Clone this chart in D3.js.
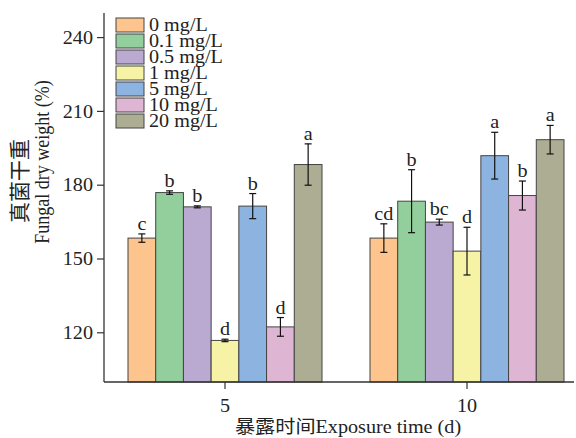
<!DOCTYPE html>
<html>
<head>
<meta charset="utf-8">
<script src="https://cdn.jsdelivr.net/npm/d3@7/dist/d3.min.js"></script>
<style>
  html, body { margin: 0; padding: 0; background: #fff; }
  svg { display: block; }
  text { font-family: "Liberation Serif", "Times New Roman", "Noto Sans CJK SC", serif; fill: #222; }
</style>
</head>
<body>
<svg id="chart" width="576" height="438"></svg>
<script>
// Exposure times (days) and copper concentrations
const times = ["5", "10"];
const concentrations = ["0 mg/L", "0.1 mg/L", "0.5 mg/L", "1 mg/L", "5 mg/L", "10 mg/L", "20 mg/L"];

// Fungal dry weight (%) — means, error (±) and significance letters
const day5Means   = [158.5, 177.0, 171.2, 116.9, 171.5, 122.4, 188.4];
const day5Errors  = [1.7, 0.7, 0.4, 0.5, 5.1, 3.8, 8.4];
const day5Letters = ["c", "b", "b", "d", "b", "d", "a"];

const day10Means   = [158.5, 173.5, 165.0, 153.2, 192.0, 175.8, 198.5];
const day10Errors  = [5.8, 12.8, 1.2, 9.7, 9.5, 5.9, 5.8];
const day10Letters = ["cd", "b", "bc", "d", "a", "b", "a"];

const yTicks = [120, 150, 180, 210, 240];
const colors = ["#FDC48E", "#93CF9D", "#BAA9D0", "#F7F3A6", "#8DB3E0", "#DEB5D3", "#ADAD93"];

const groups = [
  { time: times[0], means: day5Means,  errors: day5Errors,  letters: day5Letters },
  { time: times[1], means: day10Means, errors: day10Errors, letters: day10Letters }
];

const svg = d3.select("#chart");
const SX = 1.12;         // horizontal glyph stretch
const FS = 18;           // base font size
const axisColor = "#333";

const x0 = d3.scaleBand().domain(times).range([104, 588]);
const x1 = d3.scaleBand().domain(concentrations).range([-97, 97]);
const y = d3.scaleLinear().domain([100, 250]).range([382, 13]);
const color = d3.scaleOrdinal().domain(concentrations).range(colors);

function place(sel, x, yy, rotate) {
  sel.attr("transform", `translate(${x},${yy}) scale(${SX},1)` + (rotate ? " rotate(-90)" : ""));
  return sel;
}

// Bars, error bars and letters
const g = svg.selectAll("g.group").data(groups).join("g")
  .attr("class", "group")
  .attr("transform", d => `translate(${x0(d.time) + x0.bandwidth() / 2},0)`);

const items = g.selectAll("g.item")
  .data(d => concentrations.map((c, i) => ({ c, m: d.means[i], e: d.errors[i], l: d.letters[i] })))
  .join("g").attr("class", "item");

items.append("rect")
  .attr("x", d => x1(d.c))
  .attr("y", d => y(d.m))
  .attr("width", x1.bandwidth())
  .attr("height", d => y(100) - y(d.m))
  .attr("fill", d => color(d.c))
  .attr("stroke", "#444")
  .attr("stroke-width", 1);

const cap = 3.5;
items.each(function (d) {
  const s = d3.select(this);
  const cx = x1(d.c) + x1.bandwidth() / 2;
  const top = y(d.m + d.e), bot = y(d.m - d.e);
  s.append("line").attr("x1", cx).attr("x2", cx).attr("y1", top).attr("y2", bot)
    .attr("stroke", "#111").attr("stroke-width", 1.2);
  [top, bot].forEach(v => s.append("line")
    .attr("x1", cx - cap).attr("x2", cx + cap).attr("y1", v).attr("y2", v)
    .attr("stroke", "#111").attr("stroke-width", 1.2));
  place(s.append("text").text(d.l).attr("text-anchor", "middle").attr("font-size", FS), cx, top - 4);
});

// Y axis
svg.append("line").attr("x1", 104).attr("x2", 104).attr("y1", 13).attr("y2", 382)
  .attr("stroke", axisColor).attr("stroke-width", 1.3);
yTicks.forEach(t => {
  svg.append("line").attr("x1", 97).attr("x2", 104).attr("y1", y(t)).attr("y2", y(t))
    .attr("stroke", axisColor).attr("stroke-width", 1.2);
  place(svg.append("text").text(t).attr("text-anchor", "end").attr("font-size", FS)
    .attr("dominant-baseline", "central"), 93, y(t));
});

// X axis
svg.append("line").attr("x1", 104).attr("x2", 574).attr("y1", 382).attr("y2", 382)
  .attr("stroke", axisColor).attr("stroke-width", 1.3);
times.forEach(t => {
  const cx = x0(t) + x0.bandwidth() / 2;
  svg.append("line").attr("x1", cx).attr("x2", cx).attr("y1", 382).attr("y2", 389)
    .attr("stroke", axisColor).attr("stroke-width", 1.2);
  place(svg.append("text").text(t).attr("text-anchor", "middle").attr("font-size", FS), cx, 412);
});

// Axis titles
place(svg.append("text").text("暴露时间Exposure time (d)").attr("text-anchor", "middle")
  .attr("font-size", FS), 348, 433);
place(svg.append("text").text("Fungal dry weight (%)").attr("text-anchor", "middle")
  .attr("font-size", FS), 49, 162, true);
svg.append("text").text("真菌干重")
  .attr("text-anchor", "middle").attr("dominant-baseline", "central")
  .attr("font-family", "Noto Sans CJK SC").attr("font-size", 21)
  .attr("transform", "translate(20,181) rotate(-90)");

// Legend
const leg = svg.append("g");
concentrations.forEach((c, i) => {
  const top = 18 + i * 16;
  leg.append("rect").attr("x", 116).attr("y", top).attr("width", 28).attr("height", 14)
    .attr("fill", color(c)).attr("stroke", "#444").attr("stroke-width", 1);
  place(leg.append("text").text(c).attr("font-size", FS), 149, top + 12.5);
});
</script>
</body>
</html>
